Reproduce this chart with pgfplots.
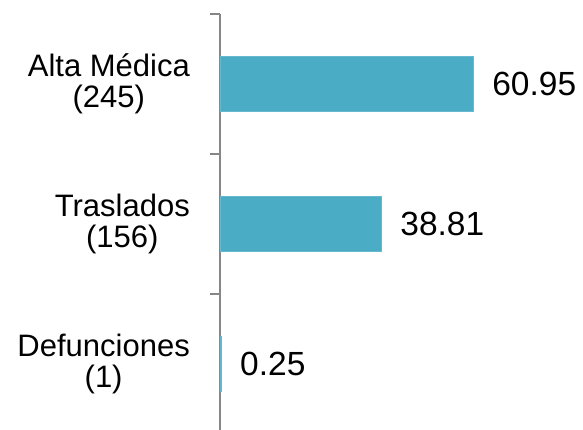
\documentclass[border=0pt]{standalone}
\usepackage{fontspec}
\setmainfont{Liberation Sans}
\usepackage{pgfplots}
\pgfplotsset{compat=1.18}
\definecolor{barc}{RGB}{75,172,198}
\definecolor{axc}{RGB}{134,134,134}
\begin{document}
\begin{tikzpicture}
\useasboundingbox (-220pt,4pt) rectangle (363pt,434pt);
\begin{axis}[
  at={(0pt,0pt)}, anchor=south west,
  scale only axis, width=363pt, height=420pt,
  xbar, xmin=0, xmax=87.4, ymin=-0.5, ymax=2.5,
  axis x line=none, axis y line*=left,
  ytick={-0.5,0.5,1.5,2.5},
  y tick label as interval,
  yticklabels={{Defunciones\\(1)},{Traslados\\(156)},{Alta Médica\\(245)}},
  major tick length=10pt, tick align=outside,
  y axis line style={axc, line width=1.2pt},
  ytick style={axc, line width=1.2pt},
  yticklabel style={align=center, font=\fontsize{31}{31}\selectfont, text=black, inner sep=0pt, xshift=-20pt},
  bar width=55pt,
  clip=false,
  nodes near coords, point meta=explicit symbolic,
  nodes near coords style={anchor=west, font=\fontsize{33.5}{38}\selectfont, text=black, inner sep=0pt, xshift=19pt},
]
\addplot[fill=barc, draw=barc!85!white] coordinates {(0.25,0) [0.25] (38.81,1) [38.81] (60.95,2) [60.95]};
\end{axis}
\end{tikzpicture}
\end{document}
